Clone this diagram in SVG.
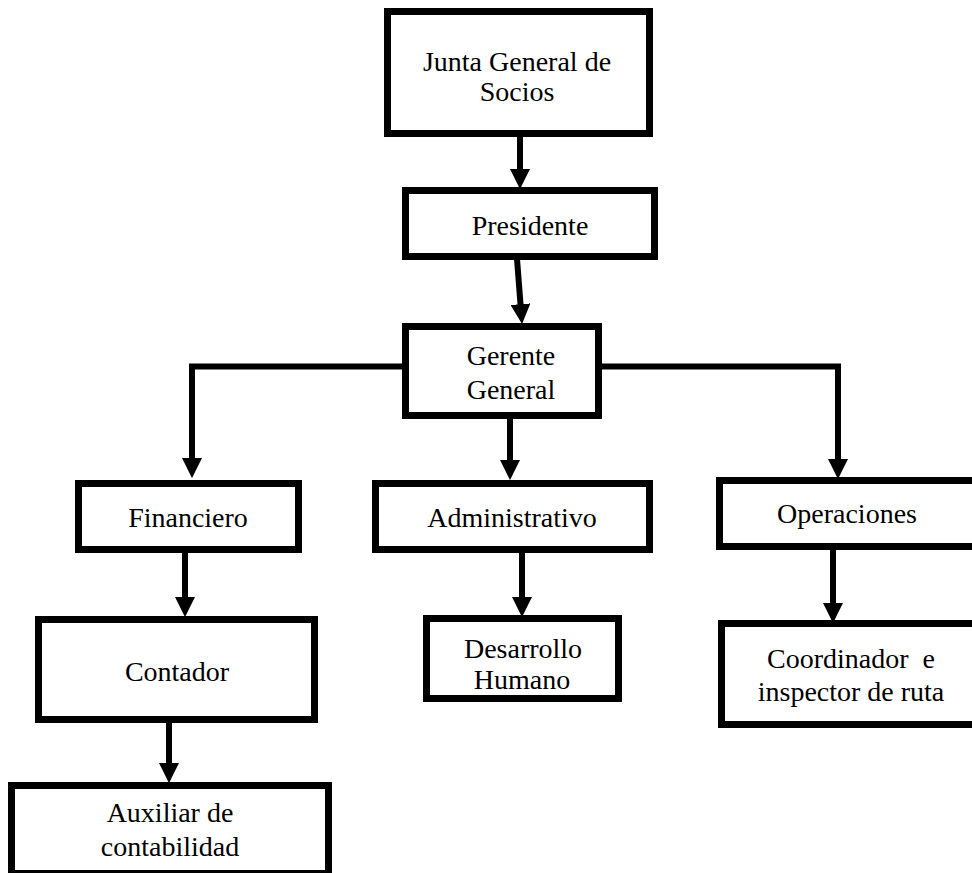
<svg xmlns="http://www.w3.org/2000/svg" width="972" height="873" viewBox="0 0 972 873">
<defs>
<style>
.box{fill:#fff;stroke:#000;stroke-width:7}
.lbl{font-family:"Liberation Serif","Times New Roman",serif;font-size:28px;fill:#000;text-anchor:middle}
.con{fill:none;stroke:#000;stroke-width:6;stroke-linejoin:miter}
</style>
<marker id="ah" markerUnits="userSpaceOnUse" markerWidth="20" markerHeight="20" viewBox="0 0 18 18" refX="8" refY="9" orient="auto">
<path d="M0,0 L18,9 L0,18 z" fill="#000"/>
</marker>
</defs>
<rect width="972" height="873" fill="#fff"/>
<g id="connectors">
<line class="con" x1="520" y1="137" x2="520" y2="178" marker-end="url(#ah)"/>
<line class="con" x1="517" y1="259" x2="521.2" y2="313" marker-end="url(#ah)"/>
<polyline class="con" points="405,366.5 192,366.5 192,467" marker-end="url(#ah)"/>
<line class="con" x1="510" y1="418" x2="510" y2="469" marker-end="url(#ah)"/>
<polyline class="con" points="599,366.5 838,366.5 838,468" marker-end="url(#ah)"/>
<line class="con" x1="185" y1="552" x2="185" y2="606" marker-end="url(#ah)"/>
<line class="con" x1="169" y1="722" x2="169" y2="772" marker-end="url(#ah)"/>
<line class="con" x1="522" y1="552" x2="522" y2="606" marker-end="url(#ah)"/>
<line class="con" x1="833" y1="549" x2="833" y2="612" marker-end="url(#ah)"/>
</g>
<g id="junta">
<rect class="box" x="387.5" y="11.5" width="262" height="122"/>
<text class="lbl" x="517" y="71">Junta General de</text>
<text class="lbl" x="517" y="101">Socios</text>
</g>
<g id="presidente">
<rect class="box" x="405.5" y="190.5" width="249" height="66"/>
<text class="lbl" x="530" y="235">Presidente</text>
</g>
<g id="gerente">
<rect class="box" x="405.5" y="326.5" width="193" height="89"/>
<text class="lbl" x="511" y="365">Gerente</text>
<text class="lbl" x="511" y="399">General</text>
</g>
<g id="financiero">
<rect class="box" x="78.5" y="483.5" width="220" height="66"/>
<text class="lbl" x="188" y="527">Financiero</text>
</g>
<g id="administrativo">
<rect class="box" x="375.5" y="483.5" width="274" height="66"/>
<text class="lbl" x="512" y="527">Administrativo</text>
</g>
<g id="operaciones">
<rect class="box" x="719.5" y="480.5" width="260" height="66"/>
<text class="lbl" x="847" y="523">Operaciones</text>
</g>
<g id="contador">
<rect class="box" x="38.5" y="619.5" width="276" height="100"/>
<text class="lbl" x="177" y="681">Contador</text>
</g>
<g id="desarrollo">
<rect class="box" x="426.5" y="618.5" width="192" height="80"/>
<text class="lbl" x="523" y="658">Desarrollo</text>
<text class="lbl" x="522" y="689">Humano</text>
</g>
<g id="coordinador">
<rect class="box" x="721.5" y="623.5" width="260" height="101"/>
<text class="lbl" x="851" y="668" xml:space="preserve">Coordinador  e</text>
<text class="lbl" x="851" y="701">inspector de ruta</text>
</g>
<g id="auxiliar">
<rect class="box" x="11.5" y="785.5" width="317" height="88"/>
<text class="lbl" x="170" y="822">Auxiliar de</text>
<text class="lbl" x="170" y="856">contabilidad</text>
</g>
</svg>
